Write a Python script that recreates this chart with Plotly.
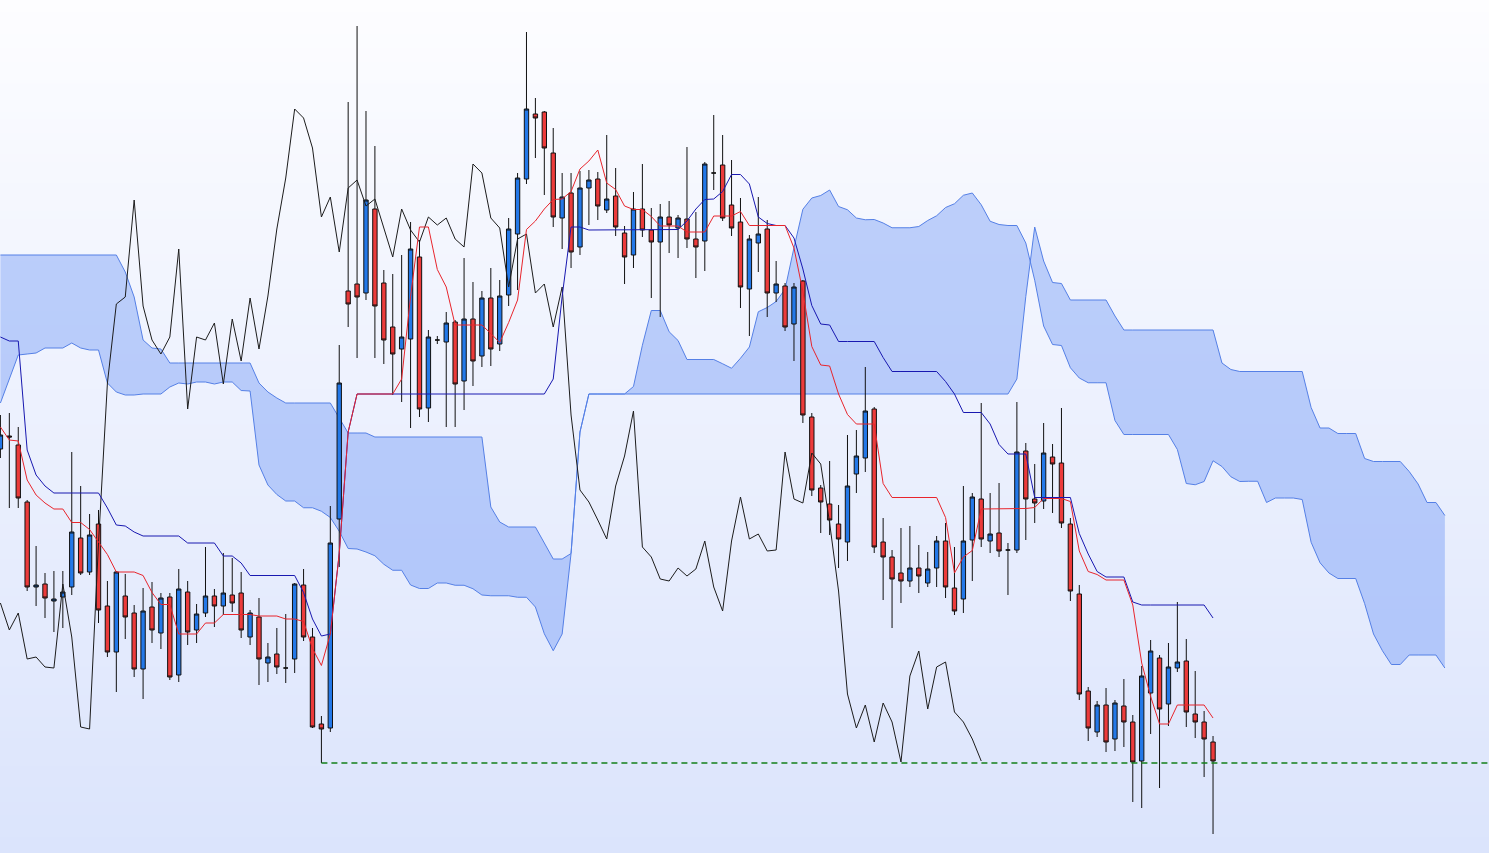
import plotly.graph_objects as go

# ---------------- data (price units) ----------------
open_p = [
    551, 564, 555, 498, 413, 416, 399, 403, 413, 462,
    428, 476, 394, 348, 404, 387, 331, 393, 367, 403,
    325, 408, 370, 387, 404, 394, 405, 407, 363, 383,
    337, 346, 332, 341, 415, 363, 276, 272, 481, 709,
    716, 707, 791, 717, 673, 651, 661, 743, 592, 660,
    658, 678, 619, 681, 644, 702, 656, 705, 766, 821,
    886, 888, 847, 782, 807, 753, 812, 821, 790, 804,
    767, 745, 791, 770, 758, 783, 772, 781, 761, 759,
    827, 835, 795, 778, 711, 757, 771, 707, 714, 676,
    719, 583, 512, 496, 476, 458, 526, 542, 591, 458,
    443, 427, 419, 432, 417, 432, 459, 412, 401, 460,
    501, 459, 467, 450, 450, 549, 501, 499, 543, 537,
    476, 406, 309, 268, 295, 261, 294, 278, 239, 307,
    342, 296, 332, 339, 286, 278, 258,
]
high_p = [
    585, 587, 573, 500, 454, 427, 429, 429, 548, 514,
    486, 490, 419, 429, 426, 395, 412, 418, 407, 407,
    431, 419, 396, 453, 411, 447, 442, 428, 390, 402,
    357, 372, 386, 417, 431, 372, 284, 494, 655, 898,
    974, 889, 854, 730, 726, 745, 778, 760, 670, 664,
    688, 680, 742, 718, 709, 732, 720, 782, 827, 968,
    902, 889, 872, 827, 827, 829, 830, 828, 865, 832,
    774, 808, 836, 792, 796, 799, 785, 853, 788, 838,
    885, 865, 840, 802, 765, 803, 780, 739, 717, 717,
    720, 587, 515, 539, 495, 565, 570, 633, 593, 482,
    450, 472, 474, 455, 448, 464, 477, 453, 514, 507,
    597, 507, 517, 457, 598, 557, 536, 577, 556, 592,
    482, 415, 313, 299, 312, 300, 321, 285, 334, 360,
    345, 357, 398, 361, 329, 289, 264,
]
low_p = [
    542, 492, 492, 409, 394, 382, 368, 372, 405, 425,
    425, 377, 343, 308, 361, 323, 301, 357, 351, 320,
    318, 355, 357, 383, 373, 385, 388, 362, 355, 315,
    318, 326, 317, 327, 359, 272, 237, 268, 433, 673,
    642, 700, 642, 636, 605, 598, 572, 583, 578, 656,
    573, 573, 590, 614, 633, 634, 649, 694, 710, 816,
    842, 805, 773, 751, 732, 745, 775, 780, 787, 764,
    716, 732, 763, 702, 683, 747, 742, 752, 722, 729,
    810, 779, 764, 692, 664, 728, 683, 698, 669, 639,
    577, 504, 467, 465, 432, 439, 507, 528, 447, 400,
    372, 397, 413, 407, 413, 413, 402, 385, 387, 419,
    453, 447, 443, 405, 447, 460, 477, 491, 487, 472,
    399, 300, 259, 263, 248, 249, 253, 198, 192, 266,
    212, 274, 328, 273, 262, 223, 166,
]
close_p = [
    565, 563, 502, 413, 415, 402, 401, 408, 468, 427,
    465, 390, 348, 428, 383, 331, 389, 370, 402, 323,
    411, 368, 386, 404, 394, 407, 397, 370, 387, 341,
    343, 333, 332, 416, 363, 273, 271, 457, 617, 696,
    703, 800, 694, 660, 646, 663, 751, 591, 663, 660,
    677, 616, 681, 639, 702, 651, 704, 771, 822, 891,
    882, 852, 783, 803, 748, 812, 820, 794, 801, 773,
    743, 791, 770, 758, 783, 775, 782, 761, 753, 836,
    827, 782, 772, 713, 761, 766, 707, 716, 673, 713,
    585, 510, 498, 480, 461, 514, 544, 589, 453, 443,
    421, 419, 432, 424, 431, 459, 413, 389, 459, 503,
    461, 466, 449, 450, 548, 501, 497, 547, 536, 477,
    409, 306, 272, 295, 258, 297, 278, 238, 324, 349,
    291, 333, 338, 288, 278, 261, 239,
]

# conversion line (9) and base line (26), one value per bar
tenkan = [
    573, 560, 559, 520, 505, 497, 491, 491, 477.5, 477.5,
    470.5, 458, 445.5, 428, 428, 428, 424.5, 407.5, 395.5, 395.5,
    366, 366, 366, 377, 377, 385.5, 385.5, 385.5, 385.5, 384,
    384, 384, 381, 381, 378.5, 351.5, 334.5, 366, 446.5, 568,
    606, 606, 606, 606, 606, 621, 703.5, 773, 773, 730.5,
    713, 675, 675, 675, 675, 666.5, 657.5, 677.5, 700, 770.5,
    779, 791, 800.5, 801, 808.5, 831, 839, 850, 817, 810.5,
    794, 790.5, 790.5, 783.5, 774, 774, 774, 768, 768, 768,
    784, 784, 784, 788.5, 774.5, 774.5, 774.5, 774.5, 774.5, 752,
    708.5, 653.5, 635, 634, 606, 585.5, 576, 576, 576, 516.5,
    502.5, 502.5, 502.5, 502.5, 502.5, 502.5, 482.5, 427, 443, 449.5,
    491, 491, 491, 491, 491.5, 491.5, 492.5, 501.5, 501.5, 501.5,
    498.5, 449, 428.5, 425.5, 420, 420, 420, 395, 337, 303.5,
    276, 276, 295, 295, 295, 295, 282,
]
kijun = [
    663, 659, 659, 550, 525, 514, 507, 507, 507, 507,
    507, 507, 492, 475, 474, 468, 464, 464, 464, 464,
    464, 457, 457, 457, 457, 444, 444, 437, 424.5, 424.5,
    424.5, 424.5, 424.5, 424.5, 407.5, 381, 364, 366, 446.5, 568,
    606, 606, 606, 606, 606, 606, 606, 606, 606, 606,
    606, 606, 606, 606, 606, 606, 606, 606, 606, 606,
    606, 606, 621, 703.5, 773, 773, 770, 770, 770, 770,
    770, 770, 770.5, 770.5, 770.5, 770.5, 770.5, 779, 791, 800.5,
    801, 808.5, 825.5, 825.5, 816, 783, 776.5, 774.5, 774.5, 762,
    731, 694.5, 676, 675, 658.5, 658.5, 658.5, 658.5, 658.5, 642.5,
    628.5, 628.5, 628.5, 628.5, 628.5, 628.5, 618.5, 606, 587.5, 587.5,
    587.5, 576, 555.5, 546, 546, 546, 502.5, 502.5, 502.5, 502.5,
    502.5, 466.5, 446, 428.5, 423, 423, 423, 398, 395, 395,
    395, 395, 395, 395, 395, 395, 382,
]

# leading spans, already placed 26 bars ahead (163 slots)
senkou_a = [
    597, 621, 645, 646, 647, 652, 652, 652, 657, 652,
    650, 650, 617, 608, 605, 605, 606, 606, 606, 613,
    617, 616, 618, 618, 616, 618,
    618, 609.5, 609, 535,
    515, 505.5, 499, 499, 492.25, 492.25, 488.75, 482.5, 468.75, 451.5,
    451, 448, 444.25, 435.75, 429.75, 429.75, 415, 411.5, 411.5, 417,
    417, 414.75, 414.75, 411.25, 405, 404.25, 404.25, 404.25, 402.75, 402.75,
    393, 366.25, 349.25, 366, 446.5, 568, 606, 606, 606, 606,
    606, 613.5, 654.75, 689.5, 689.5, 668.25, 659.5, 640.5, 640.5, 640.5,
    640.5, 636.25, 631.75, 641.75, 653, 688.25, 692.5, 698.5, 710.75, 752.25,
    790.75, 802, 804.5, 810, 793.5, 790.25, 782, 780.25, 780.5, 777,
    772.25, 772.25, 772.25, 773.5, 779.5, 784.25, 792.5, 796.25, 804.75, 807,
    795.25, 778.75, 775.5, 774.5, 774.5, 757, 719.75, 674, 655.5, 654.5,
    632.25, 622, 617.25, 617.25, 617.25, 579.5, 565.5, 565.5, 565.5, 565.5,
    565.5, 565.5, 550.5, 516.5, 515.25, 518.5, 539.25, 533.5, 523.25, 518.5,
    518.75, 518.75, 497.5, 502, 502, 502, 500.5, 457.75, 437.25, 427,
    421.5, 421.5, 421.5, 396.5, 366, 349.25, 335.5, 335.5, 345, 345,
    345, 345, 332,
]
senkou_b = [
    745, 745, 745, 745, 745, 745, 745, 745, 745, 745,
    745, 745, 745, 745, 728, 703, 660, 652, 651, 637,
    637, 637, 637, 637, 637, 637, 637, 637, 637, 617,
    608, 602, 597, 597, 597, 597, 597, 597, 582, 567,
    567, 567, 563, 563, 563, 563, 563, 563, 563, 563,
    563, 563, 563, 563, 563, 493, 478, 473, 473, 473,
    473, 457, 441, 441, 446.5, 568, 606, 606, 606, 606,
    606, 606, 606, 606, 606, 606, 606, 606, 606, 606,
    606, 606, 606, 606, 606, 606, 606, 606, 606, 606,
    606, 606, 606, 606, 606, 606, 606, 606, 606, 606,
    606, 606, 606, 606, 606, 606, 606, 606, 606, 606,
    606, 606, 606, 606, 621, 703.5, 773, 739, 717.5, 716.5,
    700, 700, 700, 700, 700, 684, 670, 670, 670, 670,
    670, 670, 670, 670, 670, 670, 670, 637, 630.5, 628.5,
    628.5, 628.5, 628.5, 628.5, 628.5, 628.5, 628.5, 592.5, 572, 572,
    566.5, 566.5, 566.5, 541.5, 538.5, 538.5, 538.5, 538.5, 528.5, 516,
    497.5, 497.5, 484.5,
]

DISPLACEMENT = 26      # lagging span shift
SUPPORT_BAR = 36       # bar whose low defines the dashed support line

# ---------------- derived placement ----------------
n = len(close_p)
bars = list(range(n))
cloud_x = list(range(len(senkou_a)))
chikou_x = [i - DISPLACEMENT for i in range(DISPLACEMENT, n)]
chikou_y = close_p[DISPLACEMENT:]

X_RANGE = [-0.047, 166.95]
Y_RANGE = [147, 1000]

CLOUD_FILL = "rgba(110,150,245,0.42)"
CLOUD_EDGE = "#5580e6"
UP_FILL = "#2378e8"
DOWN_FILL = "#ec3b3b"
OUTLINE = "#111111"

fig = go.Figure()

fig.add_trace(go.Scatter(
    x=cloud_x, y=senkou_b, mode="lines",
    line=dict(color=CLOUD_EDGE, width=1),
    hoverinfo="skip", showlegend=False))
fig.add_trace(go.Scatter(
    x=cloud_x, y=senkou_a, mode="lines",
    line=dict(color=CLOUD_EDGE, width=1),
    fill="tonexty", fillcolor=CLOUD_FILL,
    hoverinfo="skip", showlegend=False))

fig.add_trace(go.Candlestick(
    x=bars, open=open_p, high=high_p, low=low_p, close=close_p,
    yaxis="y2",
    increasing=dict(fillcolor=UP_FILL, line=dict(color=OUTLINE, width=1)),
    decreasing=dict(fillcolor=DOWN_FILL, line=dict(color=OUTLINE, width=1)),
    whiskerwidth=0, showlegend=False, hoverinfo="skip"))

fig.add_trace(go.Scatter(
    x=chikou_x, y=chikou_y, mode="lines", yaxis="y2",
    line=dict(color="#1c1c1c", width=1),
    hoverinfo="skip", showlegend=False))
fig.add_trace(go.Scatter(
    x=bars, y=kijun, mode="lines", yaxis="y2",
    line=dict(color="#1818b0", width=1),
    hoverinfo="skip", showlegend=False))
fig.add_trace(go.Scatter(
    x=bars, y=tenkan, mode="lines", yaxis="y2",
    line=dict(color="#e8252c", width=1),
    hoverinfo="skip", showlegend=False))

support = low_p[SUPPORT_BAR]
fig.add_trace(go.Scatter(
    x=[SUPPORT_BAR, X_RANGE[1]], y=[support, support], mode="lines", yaxis="y2",
    line=dict(color="#13801a", width=1.5, dash="6px,4px"),
    hoverinfo="skip", showlegend=False))

# vertical background gradient (white at top -> pale blue at bottom)
top_rgb = (253, 253, 255)
bot_rgb = (219, 228, 252)
bands = 120
shapes = []
for i in range(bands):
    t = (i + 0.5) / bands
    c = tuple(round(top_rgb[k] + (bot_rgb[k] - top_rgb[k]) * t) for k in range(3))
    shapes.append(dict(
        type="rect", xref="paper", yref="paper",
        x0=0, x1=1, y0=1 - (i + 1) / bands, y1=1 - i / bands + 0.002,
        fillcolor="rgb(%d,%d,%d)" % c, line=dict(width=0), layer="below"))

fig.update_layout(
    width=1489, height=853,
    margin=dict(l=0, r=0, t=0, b=0, pad=0),
    paper_bgcolor="#eef2fd",
    plot_bgcolor="rgba(0,0,0,0)",
    showlegend=False,
    shapes=shapes,
    xaxis=dict(range=X_RANGE, visible=False, fixedrange=True,
               rangeslider=dict(visible=False)),
    yaxis=dict(range=Y_RANGE, visible=False, fixedrange=True),
    yaxis2=dict(range=Y_RANGE, visible=False, fixedrange=True,
                overlaying="y"),
    hovermode=False,
)

fig.write_html(
    "out.html",
    config={"displayModeBar": False, "staticPlot": True},
    post_script="document.body.style.margin='0px';"
                "document.documentElement.style.overflow='hidden';",
)
